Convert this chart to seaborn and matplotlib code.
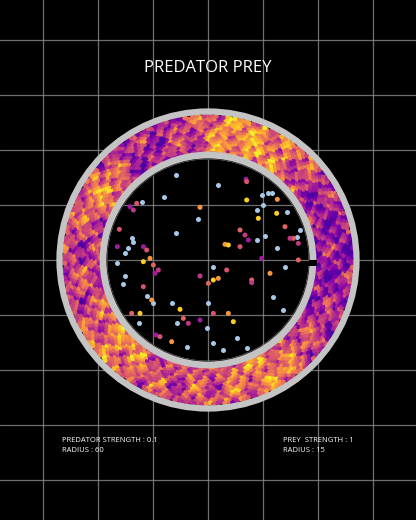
import matplotlib
matplotlib.use("Agg")
import matplotlib.pyplot as plt
import matplotlib.patches as mpatches
import seaborn as sns
import numpy as np
import pandas as pd

TITLE = "PREDATOR PREY"
LEFT_LABELS = ["PREDATOR STRENGTH : 0.1", "RADIUS : 60"]
RIGHT_LABELS = ["PREY  STRENGTH : 1", "RADIUS : 15"]

# predator ring: dominant plasma level per angular sector (degrees, counter-clockwise from east)
sector_deg = [0, 30, 60, 80, 100, 125, 145, 170, 200, 225, 250, 275, 300, 320, 340, 360]
sector_level = [0.3, 0.35, 0.7, 0.75, 0.45, 0.35, 0.7, 0.45, 0.5, 0.7, 0.5, 0.55, 0.7, 0.5, 0.35, 0.3]

# prey (pixel coords of a 3x crop starting at 100,150)
prey_blue_x = [228, 355, 193, 125, 295, 228, 95, 100, 85, 75, 50, 75, 70, 140, 160, 215, 325, 338, 470, 490,
               505, 515, 485, 560, 470, 495, 530, 555, 520, 550, 230, 260, 320, 340, 370, 118, 410, 440, 590, 600]
prey_blue_y = [75, 105, 140, 155, 208, 248, 265, 275, 295, 310, 340, 378, 402, 438, 460, 460, 458, 350, 180, 165,
               130, 130, 135, 185, 270, 258, 295, 350, 440, 480, 520, 590, 535, 580, 600, 520, 565, 595, 260, 240]
prey_warm_x = [438, 440, 532, 475, 420, 435, 445, 420, 375, 385, 580, 595, 485, 380, 355, 340, 325, 300, 130, 140,
               150, 130, 160, 175, 165, 130, 155, 240, 250, 265, 300, 340, 385, 400, 455, 455, 168, 180, 215, 120,
               95, 100, 90, 110, 510, 530, 555, 570, 52, 58, 300, 440, 595]
prey_warm_y = [88, 95, 148, 205, 240, 255, 270, 290, 283, 285, 265, 280, 325, 360, 385, 390, 400, 378, 290, 300,
               325, 335, 345, 360, 370, 410, 450, 478, 505, 520, 510, 490, 490, 515, 390, 398, 555, 560, 575, 490,
               490, 180, 170, 160, 370, 190, 230, 265, 290, 238, 172, 150, 330]

CX, CY = 208, 260

sns.set_style("dark")
plt.rcParams["font.family"] = ["Open Sans", "DejaVu Sans"]

fig = plt.figure(figsize=(4.16, 5.2), dpi=100, facecolor="black")
ax = fig.add_axes([0, 0, 1, 1])
ax.set_facecolor("black")
ticks_x = np.arange(-4, 5) * 55
ticks_y = np.arange(-5, 6) * 55
ax.set_xticks(ticks_x)
ax.set_yticks(ticks_y)
ax.tick_params(length=0, labelbottom=False, labelleft=False)
ax.grid(True, color="#8a8a8a", linewidth=0.9, alpha=0.8)
for s in ax.spines.values():
    s.set_visible(False)

# predator ring as a dense sunflower lattice, blotchy texture
n = 2800
idx = np.arange(n)
r = np.sqrt(107**2 + (145**2 - 107**2) * (idx + 0.5) / n)
th = (idx * 137.508) % 360
x = r * np.cos(np.radians(th))
y = r * np.sin(np.radians(th))
base = np.interp(th, sector_deg, sector_level)
blob = (np.sin(x / 6.1 + 0.4) * np.cos(y / 8.7 - 1.1) + 0.7 * np.sin((1.3 * x - y) / 4.3 + 2.0)
        * np.cos((x + 0.7 * y) / 5.9)) / 1.7
grain = ((idx * 0.7548777) % 1 - 0.5) * 0.3 + ((idx * 0.5698403) % 1 - 0.5) * 0.25
lev = np.clip(base + 0.3 * blob + grain, 0.12, 0.97)
ring = pd.DataFrame({"x": x, "y": y, "lev": lev})
sns.scatterplot(data=ring, x="x", y="y", hue="lev", palette="plasma", hue_norm=(0, 1),
                s=14, linewidth=0, legend=False, ax=ax, zorder=2)

# grey rings
ax.add_patch(mpatches.Circle((0, 0), 148.5, fill=False, ec="#c4c4c4", lw=4.5, zorder=3))
ax.add_patch(mpatches.Circle((0, 0), 104.5, fill=True, fc="black", ec="#c4c4c4", lw=5.5, zorder=3))
ax.add_patch(mpatches.Circle((0, 0), 101.2, fill=False, ec="#1a1a1a", lw=0.6, zorder=4))
ax.add_patch(mpatches.Rectangle((100, -6), 9, 6, fc="black", ec="none", zorder=4))
# grid inside the inner black disc
for t in ticks_x:
    if abs(t) < 100:
        h = np.sqrt(100**2 - t**2)
        ax.plot([t, t], [-h, h], color="#8a8a8a", lw=0.9, alpha=0.8, zorder=4)
for t in ticks_y:
    if abs(t) < 100:
        h = np.sqrt(100**2 - t**2)
        ax.plot([-h, h], [t, t], color="#8a8a8a", lw=0.9, alpha=0.8, zorder=4)

def to_data(xs, ys):
    px = 100 + np.array(xs) / 3
    py = 150 + np.array(ys) / 3
    return px - CX, CY - py

bx, by = to_data(prey_blue_x, prey_blue_y)
ax.scatter(bx, by, s=13, color="#a8c8e8", linewidth=0, zorder=5)
wx, wy = to_data(prey_warm_x, prey_warm_y)
warm_levels = [0.35, 0.55, 0.75, 0.9, 0.6, 0.45]
wc = [plt.cm.plasma(warm_levels[i % len(warm_levels)]) for i in range(len(wx))]
ax.scatter(wx, wy, s=13, color=wc, linewidth=0, zorder=5)

ax.text(0, 192, TITLE, color="white", ha="center", va="center", fontsize=12)
ax.text(-146, -180, LEFT_LABELS[0], color="white", fontsize=5.5, va="center")
ax.text(-146, -191, LEFT_LABELS[1], color="white", fontsize=5.5, va="center")
ax.text(75, -180, RIGHT_LABELS[0], color="white", fontsize=5.5, va="center")
ax.text(75, -191, RIGHT_LABELS[1], color="white", fontsize=5.5, va="center")

ax.set_xlim(-208, 208)
ax.set_ylim(-260, 260)
ax.set_aspect("equal")

fig.savefig("out.png", dpi=100, facecolor="black")
